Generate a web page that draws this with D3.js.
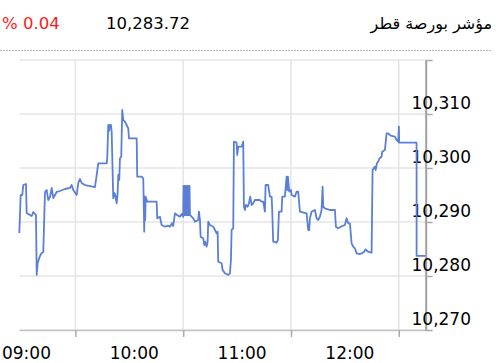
<!DOCTYPE html>
<html>
<head>
<meta charset="utf-8">
<script src="https://cdn.jsdelivr.net/npm/d3@7"></script>
<style>
  body { margin: 0; background: #fff; }
  text { font-family: "DejaVu Sans", Verdana, sans-serif; }
</style>
</head>
<body>
<div id="chart"></div>
<script>
// Header texts
var title = "مؤشر بورصة قطر";
var lastValue = "10,283.72";
var change = "% 0.04";

// Axis ticks
var yTicks = [10270, 10280, 10290, 10300, 10310, 10320];
var yLabels = [10270, 10280, 10290, 10300, 10310];
var xGrid = ["09:30:00", "10:30:00", "11:30:00", "12:30:00"];
var xLabels = ["09:00:00", "10:00:00", "11:00:00", "12:00:00"];

// Intraday index series
var times = [
  "08:58:47","08:59:33","09:00:27","09:01:00","09:02:30","09:02:53","09:04:44","09:05:41","09:06:34","09:08:04",
  "09:08:28","09:09:01","09:10:17","09:11:14","09:12:08","09:13:05","09:14:01","09:14:55","09:15:52","09:16:49",
  "09:17:42","09:19:35","09:21:25","09:24:13","09:26:59","09:27:56","09:28:50","09:30:43","09:31:37","09:32:33",
  "09:33:30","09:35:20","09:40:54","09:41:51","09:42:44","09:47:25","09:47:45","09:48:18","09:48:48","09:49:08",
  "09:49:48","09:50:12","09:51:05","09:51:39","09:52:12","09:52:59","09:53:32","09:53:52","09:54:25","09:54:49",
  "09:55:32","09:55:46","09:56:05","09:56:39","09:57:35","09:58:32","09:59:26","09:59:49","10:04:07","10:04:26",
  "10:06:53","10:07:47","10:08:20","10:08:34","10:08:53","10:09:07","10:10:01","10:15:14","10:15:34","10:17:04",
  "10:18:01","10:19:51","10:21:41","10:22:38","10:23:45","10:24:28","10:25:25","10:26:32","10:28:12","10:29:09",
  "10:30:02","10:30:12","10:30:32","10:30:52","10:31:12","10:31:32","10:31:52","10:32:12","10:32:32","10:32:52",
  "10:33:12","10:33:32","10:33:46","10:35:36","10:36:33","10:38:23",
  "10:38:47","10:39:20","10:39:43","10:41:10","10:41:44","10:42:17","10:43:04","10:43:37","10:43:57","10:44:54",
  "10:46:44","10:47:41","10:48:38","10:49:11","10:49:31","10:51:25","10:51:58","10:53:14","10:55:05","10:56:02",
  "10:56:35","10:56:58","10:57:52","10:58:15","10:59:45","11:00:05","11:00:39","11:02:32","11:03:26","11:03:49",
  "11:04:23","11:04:56","11:05:53","11:06:36","11:07:19","11:08:06","11:09:00","11:09:56","11:12:43","11:13:40",
  "11:14:34","11:15:30","11:15:53","11:17:20","11:18:17","11:19:14","11:19:34","11:20:07","11:22:01","11:22:44",
  "11:23:18","11:24:48","11:25:08","11:26:38","11:27:35","11:28:01","11:28:18","11:29:02","11:29:58","11:30:22",
  "11:32:12","11:33:09","11:34:02","11:34:59","11:38:43","11:39:36","11:40:10","11:40:33","11:41:29","11:43:20",
  "11:44:16","11:45:10","11:46:07","11:47:03","11:47:37","11:47:57","11:48:53","11:51:41","11:54:28","11:55:01",
  "11:56:18","11:57:48","12:00:02","12:00:58","12:01:52","12:02:49","12:03:45","12:04:38","12:05:35","12:06:32",
  "12:08:22","12:09:29","12:10:46","12:11:32","12:12:49","12:14:53","12:15:26","12:16:43","12:17:07","12:17:50",
  "12:18:33","12:19:20","12:20:26","12:20:47","12:22:17","12:22:40","12:23:14","12:24:07","12:25:04","12:26:01",
  "12:27:51","12:28:47","12:29:41","12:30:04","12:30:14","12:39:55","12:39:56","12:44:56"
];
var values = [
  10287.96,10295.00,10295.00,10296.85,10297.04,10291.67,10291.30,10291.11,10291.85,10291.30,
  10280.19,10282.41,10283.70,10284.26,10284.44,10295.56,10295.93,10294.07,10294.63,10296.30,
  10294.44,10295.56,10295.74,10296.11,10296.30,10296.85,10295.93,10295.00,10297.22,10297.96,
  10297.22,10296.85,10296.48,10298.70,10300.87,10300.87,10301.80,10307.96,10306.90,10307.96,
  10307.96,10306.72,10294.39,10295.37,10295.00,10293.46,10295.37,10298.70,10297.78,10301.80,
  10302.09,10305.80,10310.74,10308.89,10308.57,10307.96,10307.35,10305.50,10305.50,10298.39,
  10298.39,10298.09,10288.20,10294.69,10290.37,10294.69,10293.76,10293.76,10290.69,10290.98,
  10289.44,10289.13,10289.31,10289.13,10289.76,10289.26,10291.61,10291.30,10290.98,10291.48,
  10290.98,10296.67,10291.30,10296.67,10291.30,10296.67,10291.30,10296.67,10291.30,10296.67,
  10291.30,10296.67,10291.30,10290.69,10290.06,10290.37,
  10291.91,10290.37,10287.28,10286.98,10285.74,10286.35,10285.43,10286.35,10290.06,10289.44,
  10289.13,10288.52,10287.91,10288.20,10282.65,10282.35,10281.11,10280.50,10280.19,10280.50,
  10282.96,10288.52,10288.83,10304.87,10304.69,10302.41,10303.94,10303.94,10304.87,10292.83,
  10292.22,10293.15,10292.83,10293.46,10294.69,10293.15,10293.46,10294.07,10294.07,10293.76,
  10293.76,10291.91,10296.85,10296.85,10294.69,10294.69,10292.22,10286.35,10286.17,10286.67,
  10291.91,10291.91,10294.69,10294.69,10298.39,10295.93,10298.39,10295.63,10295.93,10295.00,
  10294.69,10295.63,10295.63,10291.91,10291.61,10288.52,10288.52,10290.69,10291.91,10292.22,
  10290.69,10290.37,10290.98,10292.22,10296.54,10292.83,10292.54,10292.22,10292.22,10289.13,
  10288.83,10289.13,10289.44,10290.69,10289.76,10289.76,10286.06,10285.43,10285.13,10284.20,
  10284.07,10284.20,10284.50,10284.94,10284.50,10284.31,10299.63,10300.24,10299.63,10300.87,
  10301.17,10301.80,10302.09,10303.02,10303.33,10304.57,10306.43,10306.43,10306.11,10305.93,
  10305.80,10305.19,10304.87,10307.65,10304.69,10304.69,10283.72,10283.72
];

var parseTime = d3.timeParse("%H:%M:%S");
var data = times.map(function (t, i) { return { t: parseTime(t), v: values[i] }; });

var width = 499, height = 363;
var svg = d3.select("#chart")
    .append("svg")
    .attr("width", width)
    .attr("height", height);

// Scales
var x = d3.scaleTime()
    .domain([parseTime("08:58:47"), parseTime("12:45:00")])
    .range([19.3, 425.7]);
var y = d3.scaleLinear()
    .domain([10270, 10320])
    .range([330, 60]);

// Header
svg.append("text")
    .attr("x", 2).attr("y", 29)
    .style("font-size", "16.5px")
    .style("fill", "#ff1a1a")
    .text(change);
svg.append("text")
    .attr("x", 106).attr("y", 29)
    .style("font-size", "16.5px")
    .style("fill", "#000")
    .text(lastValue);
svg.append("text")
    .attr("x", 492).attr("y", 29)
    .attr("text-anchor", "end")
    .style("font-size", "16px")
    .style("fill", "#000")
    .text(title);

// Dotted separator
svg.append("line")
    .attr("x1", 0).attr("x2", 491)
    .attr("y1", 50.5).attr("y2", 50.5)
    .style("stroke", "#b8b8b8")
    .style("stroke-dasharray", "2,1");

// Horizontal grid
svg.selectAll(".hgrid")
    .data(yTicks)
    .enter().append("line")
    .attr("class", "hgrid")
    .attr("x1", x.range()[0]).attr("x2", x.range()[1])
    .attr("y1", function (d) { return y(d); })
    .attr("y2", function (d) { return y(d); })
    .style("stroke", "#e4e4e4")
    .style("stroke-width", 1.5);

// Vertical grid
svg.selectAll(".vgrid")
    .data(xGrid)
    .enter().append("line")
    .attr("class", "vgrid")
    .attr("x1", function (d) { return x(parseTime(d)); })
    .attr("x2", function (d) { return x(parseTime(d)); })
    .attr("y1", y(10320)).attr("y2", y(10270))
    .style("stroke", "#e4e4e4")
    .style("stroke-width", 1.5);

// Bottom axis with ticks at the half hours
var xAxis = svg.append("g")
    .attr("transform", "translate(0," + y(10270) + ")")
    .call(d3.axisBottom(x)
        .tickValues(xGrid.map(parseTime))
        .tickSize(7)
        .tickSizeOuter(0)
        .tickFormat(""));
xAxis.select(".domain").style("stroke", "#c4c4c4").style("stroke-width", 1.5);
xAxis.selectAll(".tick line").style("stroke", "#aaa").style("stroke-width", 1.5);

// Right axis
var yAxis = svg.append("g")
    .attr("transform", "translate(" + x.range()[1] + ",0)")
    .call(d3.axisRight(y)
        .tickValues(yTicks)
        .tickSize(7)
        .tickSizeOuter(0)
        .tickFormat(""));
yAxis.select(".domain").style("stroke", "#a0a0a0").style("stroke-width", 2);
yAxis.selectAll(".tick line").style("stroke", "#aaa").style("stroke-width", 1.5);

// Y labels sit above their grid lines
svg.selectAll(".ylab")
    .data(yLabels)
    .enter().append("text")
    .attr("class", "ylab")
    .attr("x", 411.5)
    .attr("y", function (d) { return y(d) - 5.5; })
    .style("font-size", "17px")
    .style("fill", "#000")
    .text(function (d) { return d3.format(",")(d); });

// Hour labels
svg.selectAll(".xlab")
    .data(xLabels)
    .enter().append("text")
    .attr("class", "xlab")
    .attr("x", function (d) { return x(parseTime(d)) + 5; })
    .attr("y", 358.5)
    .attr("text-anchor", "middle")
    .style("font-size", "17px")
    .style("fill", "#000")
    .text(function (d) { return d.slice(0, 5); });

// Index line
var line = d3.line()
    .x(function (d) { return x(d.t); })
    .y(function (d) { return y(d.v); });

svg.append("path")
    .datum(data)
    .attr("d", line)
    .style("fill", "none")
    .style("stroke", "#5a7fd9")
    .style("stroke-width", 1.8)
    .style("stroke-linejoin", "round");
</script>
</body>
</html>
